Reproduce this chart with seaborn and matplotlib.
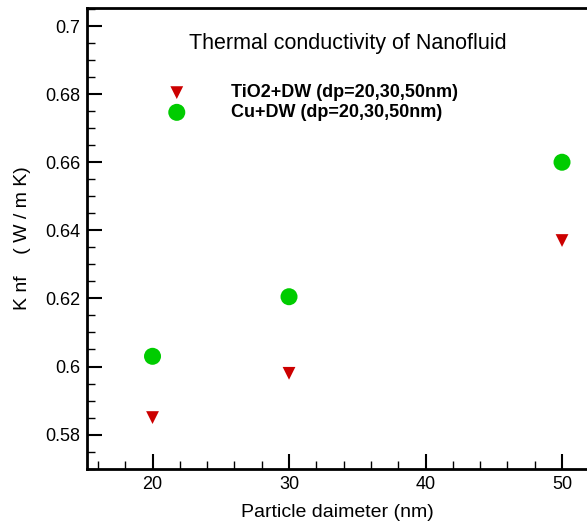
import matplotlib
matplotlib.use("Agg")
import matplotlib.pyplot as plt
from matplotlib.ticker import MultipleLocator, FuncFormatter
import seaborn as sns
import pandas as pd

diameter = [20, 30, 50]
tio2_k = [0.585, 0.598, 0.637]
cu_k = [0.603, 0.6205, 0.660]
labels = ["TiO2+DW (dp=20,30,50nm)", "Cu+DW (dp=20,30,50nm)"]

sns.set_theme(style="white")
plt.rcParams['font.family'] = ['Liberation Sans', 'DejaVu Sans']

fig = plt.figure(figsize=(5.87, 5.28), dpi=100)
ax = fig.add_axes([87/587, 59/528, 500/587, 461/528])

df_t = pd.DataFrame({"d": diameter, "k": tio2_k})
df_c = pd.DataFrame({"d": diameter, "k": cu_k})
sns.scatterplot(data=df_t, x="d", y="k", marker="v", s=85, color="#cc0000",
                edgecolor="none", ax=ax, label=labels[0], zorder=3)
sns.scatterplot(data=df_c, x="d", y="k", marker="o", s=150, color="#00cc00",
                edgecolor="none", ax=ax, label=labels[1], zorder=3)

ax.set_xlim(15.2, 51.83)
ax.set_ylim(0.5699, 0.7053)
ax.xaxis.set_major_locator(MultipleLocator(10))
ax.xaxis.set_minor_locator(MultipleLocator(2))
ax.yaxis.set_major_locator(MultipleLocator(0.02))
ax.yaxis.set_minor_locator(MultipleLocator(0.005))
ax.yaxis.set_major_formatter(FuncFormatter(lambda v, p: f"{v:.2f}".rstrip("0")))
ax.tick_params(which="major", direction="in", length=11, width=1.5, color="black",
               labelsize=13, labelcolor="black", left=True, bottom=True, pad=5)
ax.tick_params(which="minor", direction="in", length=6, width=1.0, color="black",
               left=True, bottom=True)
for side in ["left", "bottom", "top"]:
    ax.spines[side].set_color("black")
    ax.spines[side].set_linewidth(2)
ax.spines["right"].set_visible(False)

ax.set_xlabel("Particle daimeter (nm)", fontsize=14, labelpad=8, color="black")
ax.set_ylabel("K nf    ( W / m K)", fontsize=14, labelpad=10, color="black")

ax.text(0.522, 0.924, "Thermal conductivity of Nanofluid", transform=ax.transAxes,
        ha="center", va="center", fontsize=15.5, color="black")

leg = ax.legend(loc="upper left", bbox_to_anchor=(0.129, 0.85), frameon=False,
                handletextpad=2.0, labelspacing=0.15, borderaxespad=0,
                prop={"weight": "bold", "size": 13})
for t in leg.get_texts():
    t.set_color("black")

fig.savefig("out.png", dpi=100)
